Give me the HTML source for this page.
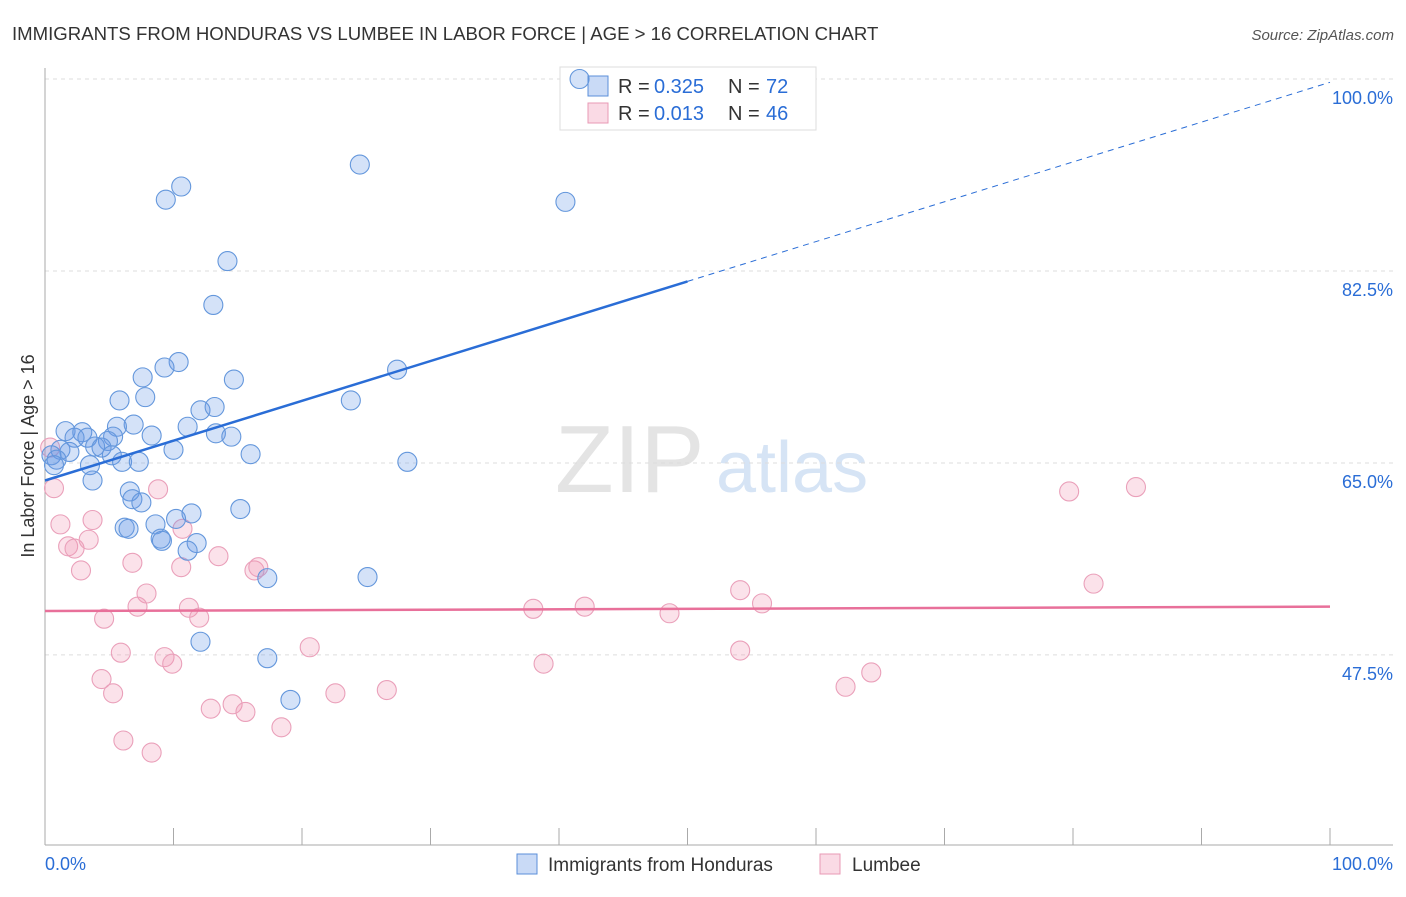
<!DOCTYPE html>
<html><head><meta charset="utf-8"><style>
body{margin:0;background:#fff;font-family:"Liberation Sans",sans-serif;}
svg text{font-family:"Liberation Sans",sans-serif;}
</style></head><body>
<svg id="c" width="1406" height="892">
<text x="12" y="40" font-size="18.6" fill="#333">IMMIGRANTS FROM HONDURAS VS LUMBEE IN LABOR FORCE | AGE &gt; 16 CORRELATION CHART</text>
<text x="1394" y="40" font-size="15" fill="#555" font-style="italic" text-anchor="end">Source: ZipAtlas.com</text>
<text x="555" y="492" font-size="96" fill="#e4e4e4" font-family="Liberation Serif">ZIP</text>
<text x="716" y="492" font-size="72" fill="#d6e4f5">atlas</text>
<text transform="translate(34,456) rotate(-90)" font-size="18" fill="#333" text-anchor="middle">In Labor Force | Age &gt; 16</text>
<g id="grid"></g>
<g>
<rect x="560" y="67" width="256" height="63" fill="#fff" stroke="#ddd"/>
<rect x="588" y="76" width="20" height="20" fill="rgba(100,150,230,0.35)" stroke="#5b8fd9"/>
<text x="618" y="93" font-size="20" fill="#333">R =</text><text x="654" y="93" font-size="20" fill="#2a6dd6">0.325</text>
<text x="728" y="93" font-size="20" fill="#333">N =</text><text x="766" y="93" font-size="20" fill="#2a6dd6">72</text>
<rect x="588" y="103" width="20" height="20" fill="rgba(240,150,180,0.35)" stroke="#e89ab5"/>
<text x="618" y="120" font-size="20" fill="#333">R =</text><text x="654" y="120" font-size="20" fill="#2a6dd6">0.013</text>
<text x="728" y="120" font-size="20" fill="#333">N =</text><text x="766" y="120" font-size="20" fill="#2a6dd6">46</text>
</g>
<g id="pts"></g><g id="trend"></g>
<g>
<rect x="517" y="854" width="20" height="20" fill="rgba(100,150,230,0.35)" stroke="#5b8fd9"/>
<text x="548" y="871" font-size="19" fill="#333">Immigrants from Honduras</text>
<rect x="820" y="854" width="20" height="20" fill="rgba(240,150,180,0.35)" stroke="#e89ab5"/>
<text x="852" y="871" font-size="19" fill="#333">Lumbee</text>
</g>
</svg>
<script>
const yTicks=[47.5,65.0,82.5,100.0];
const xTickLabels=["0.0%","100.0%"];
const blueX=[41.6,24.5,10.6,9.4,40.5,14.2,13.1,10.4,9.3,7.6,14.7,27.4,7.8,5.8,23.8,12.1,13.2,6.9,11.1,5.6,8.3,13.3,14.5,1.6,2.9,5.3,2.3,3.3,4.9,3.9,4.4,1.2,1.9,5.2,10.0,16.0,0.5,0.9,0.7,3.5,6.0,7.3,28.2,3.7,6.6,6.8,7.5,15.2,11.4,10.2,6.2,6.5,8.6,9.0,9.1,11.8,11.1,25.1,17.3,12.1,17.3,19.1];
const blueY=[100,92.2,90.2,89.0,88.8,83.4,79.4,74.2,73.7,72.8,72.6,73.5,71.0,70.7,70.7,69.8,70.1,68.5,68.3,68.3,67.5,67.7,67.4,67.9,67.8,67.4,67.3,67.3,67.0,66.5,66.4,66.2,66.0,65.7,66.2,65.8,65.7,65.3,64.8,64.8,65.1,65.1,65.1,63.4,62.4,61.7,61.4,60.8,60.4,59.9,59.1,59.0,59.4,58.1,57.9,57.7,57.0,54.6,54.5,48.7,47.2,43.4];
const pinkX=[0.4,0.7,1.2,1.8,2.3,3.4,3.7,2.8,6.8,8.8,7.9,7.2,4.6,5.9,4.4,5.3,6.1,8.3,9.3,9.9,10.7,10.6,11.2,12.0,13.5,12.9,14.6,15.6,16.3,16.6,18.4,20.6,22.6,26.6,38.0,38.8,42.0,48.6,54.1,55.8,54.1,62.3,64.3,79.7,84.9,81.6];
const pinkY=[66.4,62.7,59.4,57.4,57.2,58.0,59.8,55.2,55.9,62.6,53.1,51.9,50.8,47.7,45.3,44.0,39.7,38.6,47.3,46.7,59.0,55.5,51.8,50.9,56.5,42.6,43.0,42.3,55.2,55.5,40.9,48.2,44.0,44.3,51.7,46.7,51.9,51.3,53.4,52.2,47.9,44.6,45.9,62.4,62.8,54.0];
const blueTrend=[63.4,99.7];
const pinkTrend=[51.5,51.9];
const X=v=>45+v*12.85, Y=v=>79+(100-v)*10.97;
const NS="http://www.w3.org/2000/svg";
function mk(t,a,p){const e=document.createElementNS(NS,t);for(const k in a)e.setAttribute(k,a[k]);p.appendChild(e);return e;}
const g=document.getElementById('grid');
yTicks.forEach((t,i)=>{const l=mk('line',{x1:45,x2:1393,y1:Y(t),y2:Y(t),stroke:'#ddd','stroke-dasharray':'4,4'},g);


const tx=mk('text',{x:1393,y:Y(t)+25,'font-size':18,fill:'#2a6dd6','text-anchor':'end'},g);tx.textContent=t.toFixed(1)+'%';

});
const ax=mk('line',{x1:45,x2:1393,y1:845,y2:845,stroke:'#aaa'},g);


const ay=mk('line',{x1:45,x2:45,y1:68,y2:845,stroke:'#aaa'},g);


for(let i=1;i<=10;i++){const t=mk('line',{x1:X(i*10),x2:X(i*10),y1:828,y2:845,stroke:'#aaa'},g);

}
xTickLabels.forEach((s,i)=>{const t=mk('text',{x:i?1393:45,y:870,'font-size':18,fill:'#2a6dd6','text-anchor':i?'end':'start'},g);t.textContent=s;

});
const p=document.getElementById('pts');
pinkX.forEach((x,i)=>{const c=mk('circle',{cx:X(x),cy:Y(pinkY[i]),r:9.5,fill:'rgba(240,150,180,0.28)',stroke:'#eaa0ba','stroke-width':1.1},p);

});
blueX.forEach((x,i)=>{const c=mk('circle',{cx:X(x),cy:Y(blueY[i]),r:9.5,fill:'rgba(100,150,230,0.28)',stroke:'#6497dc','stroke-width':1.1},p);

});
const tr=document.getElementById('trend');
const by=x=>blueTrend[0]+(blueTrend[1]-blueTrend[0])*x/100;
const b1=mk('line',{x1:X(0),y1:Y(by(0)),x2:X(50),y2:Y(by(50)),stroke:'#2a6dd6','stroke-width':2.5},tr);


const b2=mk('line',{x1:X(50),y1:Y(by(50)),x2:X(100),y2:Y(by(100)),stroke:'#2a6dd6','stroke-width':1,'stroke-dasharray':'6,5'},tr);


const pl=mk('line',{x1:X(0),y1:Y(pinkTrend[0]),x2:X(100),y2:Y(pinkTrend[1]),stroke:'#e8709a','stroke-width':2.5},tr);


</script>
</body></html>
